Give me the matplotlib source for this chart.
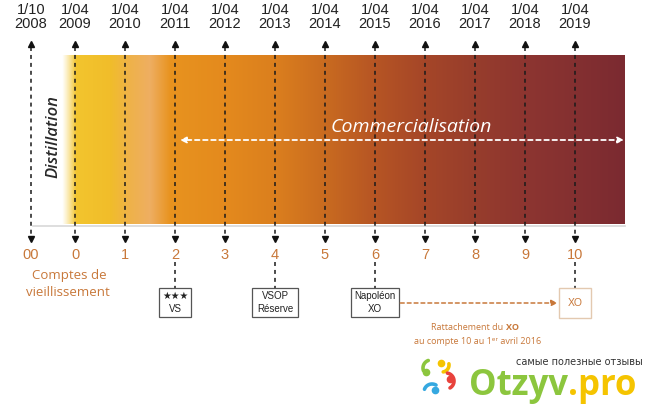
import numpy as np
import matplotlib
matplotlib.use("Agg")
import matplotlib.pyplot as plt
from matplotlib.colors import to_rgb
from matplotlib.patches import Rectangle

# ---------------- data ----------------
dates_top = ["1/10", "1/04", "1/04", "1/04", "1/04", "1/04", "1/04",
             "1/04", "1/04", "1/04", "1/04", "1/04"]
years = ["2008", "2009", "2010", "2011", "2012", "2013", "2014",
         "2015", "2016", "2017", "2018", "2019"]
comptes = ["00", "0", "1", "2", "3", "4", "5", "6", "7", "8", "9", "10"]
compte_pos = [-0.88, 0, 1, 2, 3, 4, 5, 6, 7, 8, 9, 10]
qualities = ["★★★\nVS", "VSOP\nRéserve", "Napoléon\nXO"]
quality_compte = [2, 4, 6]
xo_compte = 10

# gradient stops (position in compte units, colour)
grad_pos = [-0.26, 0.0, 0.7, 1.1, 1.5, 1.9, 3.0, 4.0, 5.0, 6.0, 7.0, 8.0, 9.0, 10.0, 11.0]
grad_col = ["#f6d35a", "#f3c52e", "#f1bd2a", "#efb24a", "#eeae62", "#e8931f",
            "#e48a1d", "#db7f1e", "#c96b20", "#b65524", "#a54628",
            "#973d2c", "#8d3530", "#843031", "#7b2a30"]

# ---------------- figure ----------------
fig = plt.figure(figsize=(6.5, 4.04), dpi=100)
ax = fig.add_axes([0, 0, 1, 1])
X0 = (0 - 75) / 50.0
X1 = (650 - 75) / 50.0
ax.set_xlim(X0, X1)
ax.set_ylim(404, 0)
ax.axis("off")
fig.patch.set_facecolor("white")

def px(p):
    return (p - 75) / 50.0

band_top, band_bot = 55, 224
band_x0, band_x1 = px(62), px(625)

# gradient band
n = 800
xs = np.linspace(band_x0, band_x1, n)
cols = np.array([to_rgb(c) for c in grad_col])
rgb = np.stack([np.interp(xs, grad_pos, cols[:, k]) for k in range(3)], axis=1)
alpha = np.clip((xs - band_x0) / (px(76) - band_x0), 0, 1)
img = np.concatenate([rgb, alpha[:, None]], axis=1)[None, :, :]
ax.imshow(img, extent=[band_x0, band_x1, band_bot, band_top], aspect="auto",
          interpolation="bilinear", zorder=1)
# shadow under band
ax.plot([px(33), band_x1], [band_bot + 1.5, band_bot + 1.5], color="#d8d8d8", lw=1.2, zorder=0)

# vertical dashed lines with arrows
for x in compte_pos:
    ax.plot([x, x], [47, 236], color="#1a1a1a", lw=1.1, ls=(0, (2.6, 2.6)), zorder=3)
    ax.plot(x, 44, marker="^", ms=5, color="#111111", zorder=4)
    ax.plot(x, 239, marker="v", ms=5, color="#111111", zorder=4)

# top labels
for x, d, y in zip(compte_pos, dates_top, years):
    ax.text(x, 9.5, d, ha="center", va="center", fontsize=10.5, family="Liberation Sans", color="#222222")
    ax.text(x, 24.5, y, ha="center", va="center", fontsize=10.5, family="Liberation Sans", color="#222222")

# compte numbers
brown = "#c8783a"
for x, c in zip(compte_pos, comptes):
    ax.text(x, 255, c, ha="center", va="center", fontsize=10.5, family="Liberation Sans", color=brown)

ax.text(px(69), 275, "Comptes de", ha="center", va="center", fontsize=9.5, family="Open Sans", color=brown)
ax.text(px(68), 292, "vieillissement", ha="center", va="center", fontsize=9.5, family="Open Sans", color=brown)

# Distillation
ax.text(px(53), 137, "Distillation", rotation=90, ha="center", va="center", fontsize=12,
        style="italic", weight="semibold", family="Open Sans", color="#2a2a2a")

# Commercialisation
ax.text(px(411), 127, "Commercialisation", ha="center", va="center", fontsize=14,
        style="italic", family="Open Sans", color="white", zorder=5)
ax.annotate("", xy=(px(180), 140), xytext=(px(624), 140),
            arrowprops=dict(arrowstyle="<|-|>", color="white", lw=1.3, ls=(0, (2.5, 2)),
                            mutation_scale=9, shrinkA=0, shrinkB=0), zorder=5)

# quality boxes
box_w = {2: 32, 4: 46, 6: 48}
for q, c in zip(qualities, quality_compte):
    w = box_w[c] / 50.0
    ax.plot([c, c], [262, 288], color="#1a1a1a", lw=1.1, ls=(0, (2.6, 2.6)), zorder=3)
    ax.add_patch(Rectangle((c - w / 2, 288), w, 29, facecolor="white", edgecolor="#555555", lw=0.9, zorder=4))
    ax.text(c, 302.5, q, ha="center", va="center", fontsize=7,
            family=["Liberation Sans", "DejaVu Sans"],
            color="#222222", linespacing=1.3, zorder=5)

# XO box
w = 32 / 50.0
ax.plot([xo_compte, xo_compte], [262, 288], color="#1a1a1a", lw=1.1, ls=(0, (2.6, 2.6)), zorder=3)
ax.add_patch(Rectangle((xo_compte - w / 2, 288), w, 30, facecolor="white", edgecolor="#e3c9b0", lw=1.0, zorder=4))
ax.text(xo_compte, 303, "XO", ha="center", va="center", fontsize=7.5, family="Liberation Sans",
        color=brown, zorder=5)

# rattachement arrow
ax.annotate("", xy=(xo_compte - w / 2, 303), xytext=(6 + 24 / 50.0, 303),
            arrowprops=dict(arrowstyle="-|>", color="#c8783a", lw=1.1, ls=(0, (2.5, 2)),
                            mutation_scale=9, shrinkA=1, shrinkB=1), zorder=4)
ax.text(px(506), 328, "Rattachement du ", ha="right", va="center", fontsize=6.5,
        family=["Open Sans", "DejaVu Sans"], color=brown)
ax.text(px(506), 328, "XO", ha="left", va="center", fontsize=6.5, weight="bold",
        family=["Open Sans", "DejaVu Sans"], color=brown)
ax.text(px(478), 341, "au compte 10 au 1ᵉʳ avril 2016", ha="center", va="center", fontsize=6.5,
        family=["Open Sans", "DejaVu Sans"], color=brown)

# watermark
ax.text(px(579), 362, "самые полезные отзывы", ha="center", va="center", fontsize=7,
        family="DejaVu Sans", color="#333333")
ax.text(px(568), 386, "Otzyv", ha="right", va="center", fontsize=25, weight="bold",
        family="Open Sans", color="#8cc63e")
ax.text(px(568), 386, ".pro", ha="left", va="center", fontsize=25, weight="bold",
        family="Open Sans", color="#f5c400")

# logo (four little figures: head dot + arm arc)
def arc(cx, cy, r, a0, a1, col):
    t = np.radians(np.linspace(a0, a1, 30))
    ax.plot(px(cx + r * np.cos(t)), cy - r * np.sin(t), color=col, lw=2.6,
            solid_capstyle="round", zorder=5)

logo = [  # head x, head y, arc cx, cy, r, a0, a1, colour
    (426, 372, 431, 368, 8, 110, 200, "#8cc63e"),
    (441, 363, 442, 365, 7, 10, -80, "#f5c400"),
    (435, 390, 432, 392, 8, 160, 60, "#35a8e0"),
    (450, 379, 446, 381, 8, 80, -60, "#e8423c"),
]
for hx, hy, cx, cy, r, a0, a1, col in logo:
    ax.plot(px(hx), hy, marker="o", ms=4.5, color=col, zorder=5)
    arc(cx, cy, r, a0, a1, col)

fig.savefig("out.png", dpi=100, facecolor="white")
